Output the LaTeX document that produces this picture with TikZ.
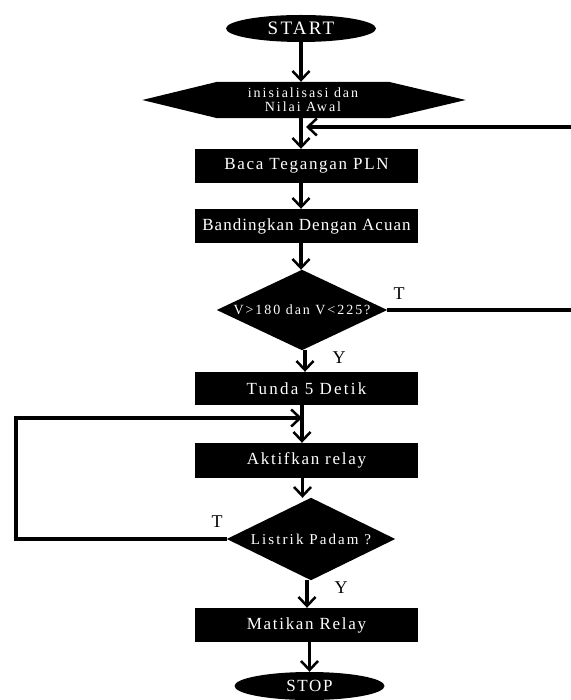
\documentclass[tikz,border=0pt]{standalone}
\usepackage{fontspec}
\setmainfont{Liberation Serif}
\usetikzlibrary{arrows.meta,shapes.geometric,backgrounds}
\begin{document}
\begin{tikzpicture}[x=1pt,y=-1pt,
  arr/.style={line width=3.5pt, -{Straight Barb[length=9pt,width=17pt,line width=2.5pt]}},
  procbox/.style={fill=black,text=white,minimum width=223pt,minimum height=34pt,inner sep=0pt,
    font=\fontsize{17}{19}\selectfont\addfontfeature{LetterSpace=10}},
  term/.style={ellipse,fill=black,text=white,minimum width=150pt,minimum height=28pt,inner sep=0pt},
  shapebox/.style={inner sep=0pt,text=white,align=center},
  lbl/.style={font=\fontsize{18}{20}\selectfont,inner sep=0pt}
]
\useasboundingbox (0,0) rectangle (570,700);

\node[term,minimum height=27pt,font=\fontsize{19}{21}\selectfont\addfontfeature{LetterSpace=12}] (start) at (301,28.5) {START};

\node[shapebox,minimum width=171pt,minimum height=36pt,
  font=\fontsize{14}{14}\selectfont\addfontfeature{LetterSpace=14}] (init) at (303,100) {inisialisasi dan\\ Nilai Awal};

\node[procbox] (baca) at (306.5,166) {Baca Tegangan PLN};
\node[procbox,font=\fontsize{17}{19}\selectfont\addfontfeature{LetterSpace=6}] (band) at (306.5,226) {Bandingkan Dengan Acuan};

\node[shapebox,minimum width=170pt,minimum height=80pt,
  font=\fontsize{14}{16}\selectfont\addfontfeature{LetterSpace=14}] (d1) at (302,310) {V>180 dan V<225?};

\node[procbox,minimum height=33pt,font=\fontsize{17}{19}\selectfont\addfontfeature{LetterSpace=13}] (tunda) at (306.5,388.5) {Tunda 5 Detik};
\node[procbox,minimum height=35pt] (akt) at (306.5,460.5) {Aktifkan relay};

\node[shapebox,minimum width=168pt,minimum height=82pt,
  font=\fontsize{15}{17}\selectfont\addfontfeature{LetterSpace=14}] (d2) at (311,539) {Listrik Padam ?};

\node[procbox] (mat) at (306.5,625) {Matikan Relay};
\node[term,font=\fontsize{17}{19}\selectfont\addfontfeature{LetterSpace=10}] (stop) at (309.5,686) {STOP};

\begin{scope}[on background layer]
  \fill (init.north west) -- (init.north east) -- ([xshift=77pt]init.east) -- (init.south east)
        -- (init.south west) -- ([xshift=-75pt]init.west) -- cycle;
  \fill (d1.north) -- (d1.east) -- (d1.south) -- (d1.west) -- cycle;
  \fill (d2.north) -- (d2.east) -- (d2.south) -- (d2.west) -- cycle;
\end{scope}

\coordinate (j1) at (306,127);
\coordinate (j2) at (302,418);

\draw[arr] (start.south) -- (start.south |- init.north);
\draw[arr] (init.south -| start) -- (baca.north -| start);
\draw[arr] (baca.south -| start) -- (band.north -| start);
\draw[arr] (band.south -| start) -- (d1.north -| start);
\draw[arr] ([xshift=3pt]d1.south) -- ([xshift=3pt]d1.south |- tunda.north);
\draw[arr] (tunda.south -| j2) -- (akt.north -| j2);
\draw[arr] ([xshift=-4pt]akt.south) -- ([xshift=-4pt]akt.south |- d2.north);
\draw[arr] ([xshift=-4pt]d2.south) -- ([xshift=-4pt]d2.south |- mat.north);
\draw[arr] ([xshift=3pt]mat.south) -- ([xshift=3pt]mat.south |- stop.north);

\draw[arr] (d1.east) -- (580,310) |- (j1);
\draw[arr] (d2.west) -- (16,539) |- (j2);

\node[lbl] (t1) at (399,294) {T};
\node[lbl] (y1) at (339,358) {Y};
\node[lbl] (t2) at (217,522) {T};
\node[lbl] (y2) at (341,588) {Y};
\end{tikzpicture}
\end{document}
